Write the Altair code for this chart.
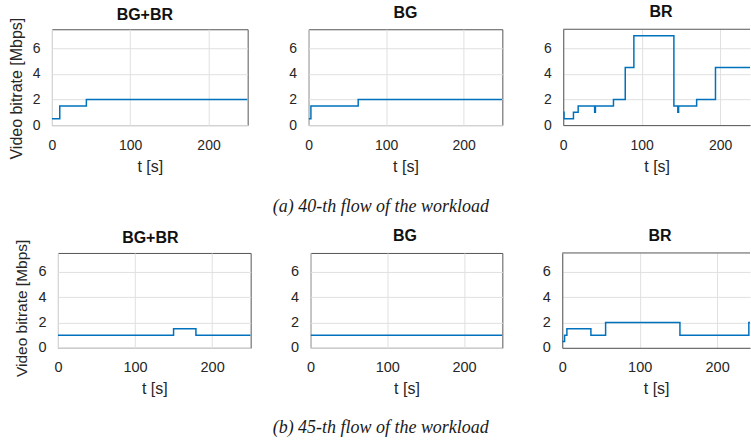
import altair as alt
import pandas as pd

# ---- (a) 40-th flow of the workload ----
a_bgbr_t = [0, 10, 44, 250]
a_bgbr_v = [0.5, 1.5, 2, 2]
a_bg_t = [0, 3, 64, 250]
a_bg_v = [0.5, 1.5, 2, 2]
a_br_t = [0, 1, 13, 19, 40, 41, 64, 79, 90, 141, 146, 147, 170, 194, 250]
a_br_v = [1, 0.5, 1, 1.5, 1, 1.5, 2, 4.5, 7, 1.5, 1, 1.5, 2, 4.5, 4.5]

# ---- (b) 45-th flow of the workload ----
b_bgbr_t = [0, 150, 179, 250]
b_bgbr_v = [1, 1.5, 1, 1]
b_bg_t = [0, 250]
b_bg_v = [1, 1]
b_br_t = [0, 3, 6, 37, 56, 152, 241, 250]
b_br_v = [0.5, 1, 1.5, 1, 2, 1, 2, 2]

panel_names = ["BG+BR", "BG", "BR"]
x_ticks = [0, 100, 200]
y_ticks = [0, 2, 4, 6]
y_max = 7.5
y_title = "Video bitrate [Mbps]"
x_title = "t [s]"
captions = ["(a) 40-th flow of the workload", "(b) 45-th flow of the workload"]

TXT = "#262626"
FRAME = "#555555"


def panel(t, v, name, width, height, xmax, ytitle, lab_fs, title_dx, title_off,
          ytitle_y=0, ytitle_fs=16, open_right=False):
    df = pd.DataFrame({"t": t, "v": v})
    xaxis = alt.Axis(values=x_ticks, title=x_title, grid=True, labelFlush=False,
                     labelFontSize=lab_fs, labelPadding=13, titlePadding=6,
                     titleFontSize=16, labelOverlap=False,
                     domain=open_right, domainColor=FRAME, domainWidth=1)
    if ytitle:
        yaxis = alt.Axis(values=y_ticks, title=ytitle, grid=True, labelFontSize=lab_fs,
                         labelPadding=12, titlePadding=8, titleFontSize=ytitle_fs,
                         titleY=ytitle_y)
    else:
        yaxis = alt.Axis(values=y_ticks, title=None, grid=True, labelFontSize=lab_fs,
                         labelPadding=12, domain=open_right, domainColor=FRAME,
                         domainWidth=1)
    yscale = alt.Scale(domain=[0, y_max], nice=False)
    line = alt.Chart(df).mark_line(
        interpolate="step-after", color="#0072BD", strokeWidth=1.5, clip=True
    ).encode(
        x=alt.X("t:Q", scale=alt.Scale(domain=[0, xmax], nice=False, zero=False), axis=xaxis),
        y=alt.Y("v:Q", scale=yscale, axis=yaxis),
    )
    title = alt.TitleParams(name, fontSize=16, fontWeight="bold", color="#111111",
                            offset=title_off, anchor="middle", dx=title_dx)
    if open_right:
        # panel cut by the right edge of the figure: frame drawn on three sides only
        edge = pd.DataFrame({"v": [y_max]})
        top_edge = alt.Chart(edge).mark_rule(color=FRAME, strokeWidth=1).encode(
            y=alt.Y("v:Q", scale=yscale, axis=yaxis)
        )
        return alt.layer(line, top_edge).properties(
            width=width, height=height, title=title,
            view=alt.ViewBackground(stroke="transparent"),
        )
    return line.properties(width=width, height=height, title=title)


A = panel(a_bgbr_t, a_bgbr_v, panel_names[0], 196, 96, 250, y_title, 14, -5, -6, 59, 16)
B = panel(a_bg_t, a_bg_v, panel_names[1], 194, 96, 250, None, 14, 0, 8.5)
C = panel(a_br_t, a_br_v, panel_names[2], 187, 96, 238, None, 14, 4.5, 8.5, open_right=True)

D = panel(b_bgbr_t, b_bgbr_v, panel_names[0], 193, 95, 250, y_title, 14.5, -4, -6.5, 55, 15.5)
E = panel(b_bg_t, b_bg_v, panel_names[1], 192, 95, 250, None, 14.5, -1.5, 8.5)
F = panel(b_br_t, b_br_v, panel_names[2], 188, 95, 242.5, None, 14.5, 4, 8.5, open_right=True)

spacer = alt.Chart(pd.DataFrame({"s": [0]})).mark_point(opacity=0).encode(
    x=alt.value(0), y=alt.value(0)
).properties(width=1, height=1, view=alt.ViewBackground(stroke="transparent"))


def cap(text, offset, dx):
    return alt.TitleParams(text, orient="bottom", font="Liberation Serif", fontStyle="italic",
                           fontWeight="normal", fontSize=18, color="#1a1a1a",
                           offset=offset, anchor="middle", dx=dx)


top = alt.HConcatChart(hconcat=[A, B, C], spacing=61, bounds="flush",
                       title=cap(captions[0], 23.5, 1.5))
inner = alt.HConcatChart(hconcat=[D, E, F], spacing=60, bounds="flush")
bottom = alt.HConcatChart(hconcat=[spacer, inner], spacing=5, bounds="flush",
                          title=cap(captions[1], 22, -2))

chart = alt.VConcatChart(vconcat=[top, bottom], spacing=11, bounds="full").properties(
    padding={"left": 7, "top": 3, "right": 0, "bottom": 0}
).configure(
    font="Liberation Sans"
).configure_view(
    stroke=FRAME, strokeWidth=1
).configure_axis(
    labelColor=TXT, titleColor=TXT, titleFontWeight="normal", gridColor="#e0e0e0",
    gridWidth=1, domain=False, ticks=False, labelFont="Liberation Sans",
    titleFont="Liberation Sans"
)

chart.save("out.html", embed_options={"renderer": "svg", "actions": False})
